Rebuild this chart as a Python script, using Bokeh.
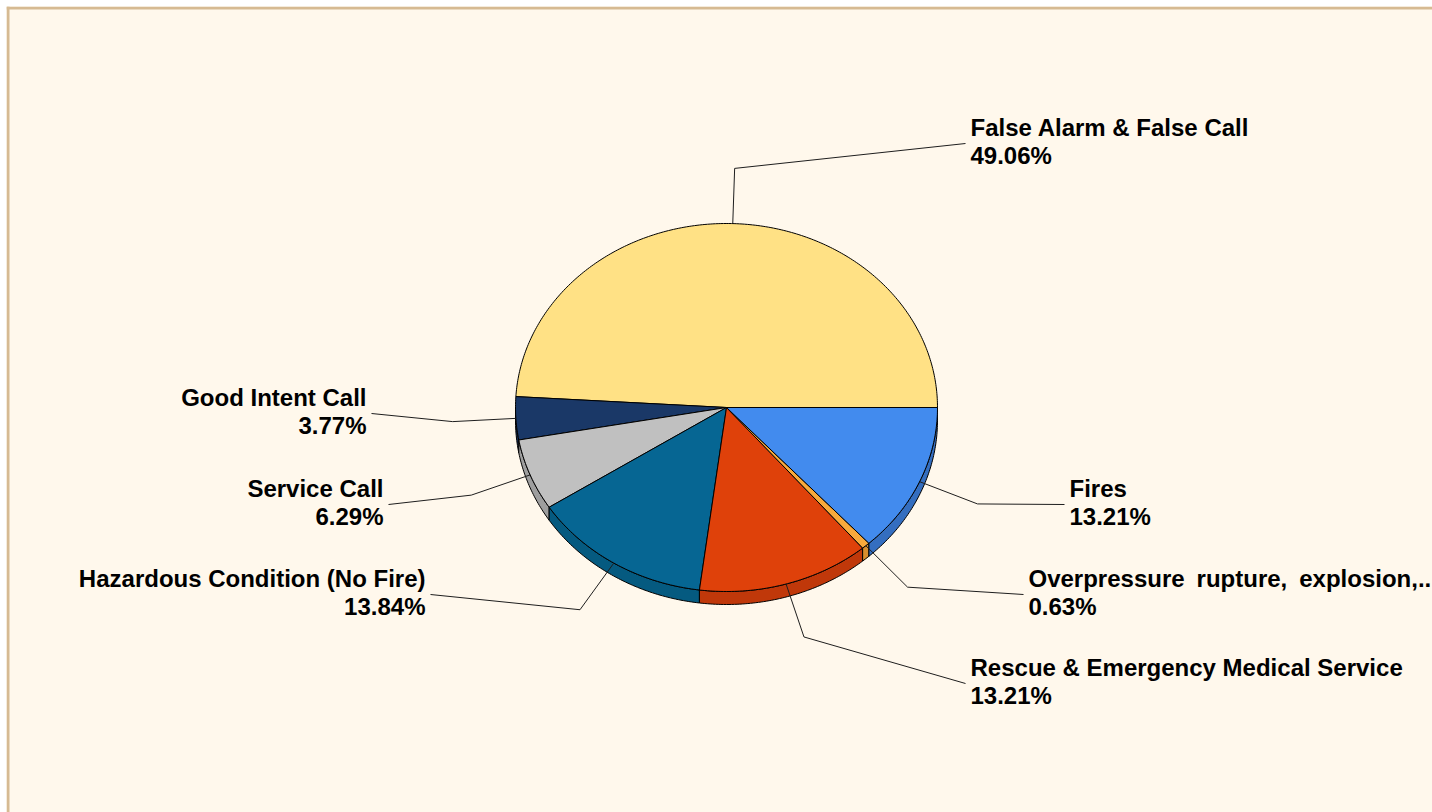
import numpy as np
from bokeh.plotting import figure
from bokeh.models import Range1d, ColumnDataSource, Span
from bokeh.core.properties import value
from bokeh.embed import file_html
from bokeh.resources import INLINE

# ---- data ----
categories = ["False Alarm & False Call", "Good Intent Call", "Service Call",
              "Hazardous Condition (No Fire)", "Rescue & Emergency Medical Service",
              "Overpressure\u2002rupture,\u2002explosion,..", "Fires"]
percent = [49.06, 3.77, 6.29, 13.84, 13.21, 0.63, 13.21]
top_colors = ["#FFE185", "#1A3867", "#C0C0C0", "#066693", "#DF410A", "#F9AA3C", "#428BEE"]
side_colors = ["#E3C56C", "#132A50", "#9E9E9E", "#055A80", "#C0380A", "#D98F2E", "#346EC0"]

# ---- layout ----
CX, CY, RX, RY, DEPTH = 726, 407, 211, 184, 13
label_x = [970, 366, 383, 425, 970, 1028, 1069]
label_y = [143, 413, 504, 594, 683, 594, 504]   # leader-line end / label block middle
label_side = ["left", "right", "right", "right", "left", "left", "left"]
LINE_H = 28
TEXT_DY = -16
FONT = value("Liberation Sans")

p = figure(width=1432, height=812, x_range=Range1d(6, 1432), y_range=Range1d(812, 6),
           output_backend="svg", toolbar_location=None,
           min_border_left=6, min_border_top=6, min_border_right=0, min_border_bottom=0,
           x_axis_location=None, y_axis_location=None,
           background_fill_color="#FFF8EC", border_fill_color="#FFFFFF")
p.grid.visible = False
p.outline_line_color = None
p.add_layout(Span(location=7.5, dimension="height", line_color="#D6BA92", line_width=3))
p.add_layout(Span(location=7.5, dimension="width", line_color="#D6BA92", line_width=3))

total = sum(percent)
fr = np.array(percent) / total
ends = np.cumsum(fr) * 2 * np.pi
starts = np.concatenate([[0.0], ends[:-1]])

def ex(t, k=1.0):
    return CX + k * RX * np.cos(t)

def ey(t, k=1.0):
    return CY - k * RY * np.sin(t)

# side faces
sx, sy, sc = [], [], []
for a, b, c in zip(starts, ends, side_colors):
    lo, hi = max(a, np.pi), min(b, 2 * np.pi)
    if hi > lo:
        t = np.linspace(lo, hi, max(3, int((hi - lo) * 80)))
        xs = list(ex(t)) + list(ex(t[::-1]))
        ys = list(ey(t)) + list(ey(t[::-1]) + DEPTH)
        sx.append(xs); sy.append(ys); sc.append(c)
p.patches(sx, sy, fill_color=sc, line_color="#000000", line_width=1)

# top faces
tx, ty = [], []
for a, b in zip(starts, ends):
    t = np.linspace(a, b, max(3, int((b - a) * 80)))
    tx.append([CX] + list(ex(t)))
    ty.append([CY] + list(ey(t)))
p.patches(tx, ty, fill_color=top_colors, line_color="#000000", line_width=1)

# leader lines
lx, ly = [], []
for a, b, x0, y0, side in zip(starts, ends, label_x, label_y, label_side):
    m = (a + b) / 2
    endx = x0 - 5 if side == "left" else x0 + 5
    lx.append([ex(m), ex(m, 1.3), endx])
    ly.append([ey(m), ey(m, 1.3), y0])
p.multi_line(lx, ly, line_color="#1E1E1E", line_width=1)

# labels
for side in ["left", "right"]:
    idx = [i for i, s in enumerate(label_side) if s == side]
    src = ColumnDataSource(dict(
        x=[label_x[i] for i in idx],
        y1=[label_y[i] + TEXT_DY for i in idx],
        y2=[label_y[i] + TEXT_DY + LINE_H for i in idx],
        name=[categories[i] for i in idx],
        pct=[f"{percent[i]:.2f}%" for i in idx]))
    for ycol, tcol in [("y1", "name"), ("y2", "pct")]:
        p.text(x="x", y=ycol, text=tcol, source=src, text_font=FONT,
               text_font_style="bold", text_font_size="24px", text_color="#000000",
               text_align=side, text_baseline="alphabetic")

open("out.html", "w").write(file_html(p, INLINE))
